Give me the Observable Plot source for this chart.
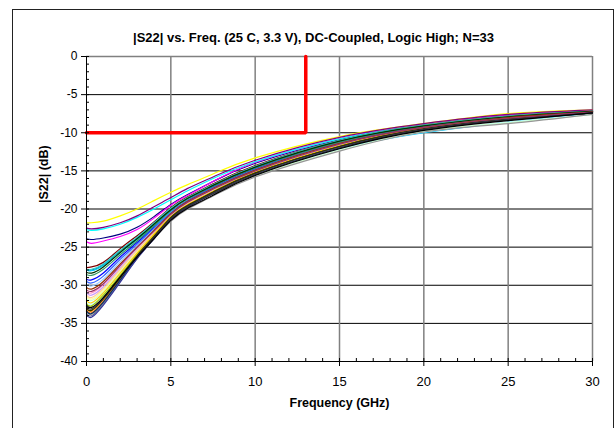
<!DOCTYPE html>
<html><head><meta charset="utf-8">
<script src="https://cdn.jsdelivr.net/npm/d3@7"></script>
<script src="https://cdn.jsdelivr.net/npm/@observablehq/plot@0.6"></script>
<style>
html,body{margin:0;padding:0;background:#fff;}
#wrap{position:relative;width:616px;height:428px;overflow:hidden;background:#fff;}
#frame{position:absolute;left:12px;top:9px;width:602px;height:450px;border:1.5px solid #222;box-sizing:border-box;pointer-events:none;}
#chart{position:absolute;left:0;top:0;}
</style></head><body><div id="wrap"><div id="chart"></div><div id="frame"></div></div>
<script>
// Frequency sample points (GHz)
const freq = [0, 0.3, 1, 2, 3, 4, 5, 6, 7.5, 10, 15, 20, 25, 30];
// |S22| (dB) for each of the 33 units
const s01 = [-23.9,-24.0,-23.8,-23.3,-22.4,-21.0,-19.4,-18.1,-16.4,-14.0,-10.9,-9.0,-7.8,-7.2];
const s02 = [-24.3,-24.5,-24.2,-23.6,-22.7,-21.2,-19.5,-18.2,-16.4,-13.9,-10.8,-8.9,-7.7,-7.1];
const s03 = [-21.8,-21.8,-21.6,-20.9,-20.0,-18.9,-17.8,-16.8,-15.4,-13.3,-10.5,-8.8,-7.5,-7.0];
const s04 = [-22.7,-22.8,-22.6,-22.0,-21.1,-20.0,-18.8,-17.6,-16.0,-13.8,-10.8,-9.0,-7.8,-7.2];
const s05 = [-22.5,-22.6,-22.4,-21.8,-20.9,-19.7,-18.5,-17.3,-15.8,-13.6,-10.6,-8.8,-7.6,-7.0];
const s06 = [-27.7,-27.6,-27.0,-25.2,-23.5,-21.7,-19.8,-18.4,-16.7,-14.3,-11.0,-9.0,-7.8,-7.2];
const s07 = [-28.0,-28.0,-27.3,-25.5,-23.8,-21.9,-20.0,-18.6,-16.9,-14.5,-11.1,-9.1,-7.9,-7.2];
const s08 = [-29.2,-29.3,-28.4,-26.3,-24.4,-22.4,-20.4,-18.9,-17.1,-14.7,-11.3,-9.2,-8.0,-7.3];
const s09 = [-28.0,-28.1,-27.4,-25.7,-24.0,-22.2,-20.4,-19.0,-17.4,-15.2,-12.1,-10.0,-8.6,-7.5];
const s10 = [-32.2,-32.5,-31.1,-28.6,-26.0,-23.5,-21.2,-19.6,-17.9,-15.5,-12.2,-9.9,-8.6,-7.6];
const s11 = [-31.7,-32.0,-30.8,-28.2,-25.7,-23.3,-21.1,-19.6,-17.9,-15.6,-12.3,-9.8,-8.7,-7.6];
const s12 = [-31.5,-31.8,-30.6,-28.0,-25.5,-23.1,-20.9,-19.3,-17.6,-15.1,-11.6,-9.4,-8.1,-7.4];
const s13 = [-29.9,-30.1,-29.2,-26.9,-24.8,-22.6,-20.5,-19.0,-17.3,-14.9,-11.4,-9.3,-8.0,-7.3];
const s14 = [-30.8,-31.0,-29.9,-27.5,-25.1,-22.9,-20.7,-19.1,-17.4,-15.0,-11.5,-9.3,-8.0,-7.3];
const s15 = [-31.0,-31.3,-30.2,-27.7,-25.2,-23.0,-20.8,-19.2,-17.5,-15.1,-11.6,-9.4,-8.1,-7.4];
const s16 = [-31.3,-31.6,-30.4,-27.9,-25.4,-23.1,-20.9,-19.3,-17.6,-15.2,-11.7,-9.4,-8.1,-7.4];
const s17 = [-29.5,-29.7,-28.8,-26.6,-24.6,-22.5,-20.5,-18.9,-17.2,-14.8,-11.3,-9.2,-8.0,-7.3];
const s18 = [-27.9,-27.9,-27.2,-25.4,-23.7,-21.8,-19.9,-18.5,-16.8,-14.4,-11.0,-9.0,-7.8,-7.2];
const s19 = [-32.4,-32.7,-31.3,-28.7,-26.0,-23.5,-21.1,-19.5,-17.7,-15.2,-11.7,-9.4,-8.1,-7.3];
const s20 = [-32.0,-32.3,-31.0,-28.4,-25.8,-23.3,-21.0,-19.4,-17.7,-15.2,-11.7,-9.5,-8.2,-7.4];
const s21 = [-33.1,-33.4,-31.9,-29.1,-26.2,-23.6,-21.2,-19.6,-17.8,-15.3,-11.8,-9.5,-8.2,-7.4];
const s22 = [-33.3,-33.6,-32.1,-29.2,-26.3,-23.7,-21.2,-19.6,-17.8,-15.3,-11.8,-9.5,-8.2,-7.4];
const s23 = [-33.7,-34.0,-32.4,-29.4,-26.4,-23.8,-21.3,-19.7,-17.9,-15.4,-11.9,-9.6,-8.3,-7.4];
const s24 = [-33.5,-33.8,-32.3,-29.4,-26.5,-23.9,-21.6,-20.0,-18.3,-15.8,-12.4,-9.9,-8.8,-7.6];
const s25 = [-33.4,-33.7,-32.2,-29.3,-26.3,-23.7,-21.2,-19.6,-17.8,-15.3,-11.8,-9.5,-8.2,-7.4];
const s26 = [-28.6,-28.7,-27.9,-26.0,-24.2,-22.2,-20.2,-18.7,-17.0,-14.6,-11.2,-9.1,-7.9,-7.2];
const s27 = [-28.3,-28.4,-27.6,-25.7,-23.9,-22.0,-20.1,-18.6,-16.9,-14.5,-11.1,-9.1,-7.9,-7.2];
const s28 = [-33.0,-33.3,-31.8,-29.0,-26.1,-23.6,-21.1,-19.5,-17.8,-15.3,-11.8,-9.5,-8.2,-7.4];
const s29 = [-30.3,-30.5,-29.5,-27.2,-25.0,-22.8,-20.6,-19.0,-17.3,-14.9,-11.4,-9.3,-8.0,-7.3];
const s30 = [-30.6,-30.8,-29.8,-27.4,-25.0,-22.9,-20.7,-19.1,-17.4,-15.0,-11.5,-9.3,-8.1,-7.3];
const s31 = [-33.9,-34.2,-32.6,-29.6,-26.5,-23.9,-21.4,-19.8,-18.0,-15.5,-12.0,-9.6,-8.3,-7.4];
const s32 = [-32.8,-33.1,-31.7,-28.9,-26.2,-23.7,-21.3,-19.7,-18.0,-15.5,-12.0,-9.6,-8.3,-7.4];
const s33 = [-32.6,-32.9,-31.6,-28.9,-26.3,-23.9,-21.5,-19.9,-18.2,-15.6,-12.1,-9.7,-8.4,-7.4];
const curves = [s01,s02,s03,s04,s05,s06,s07,s08,s09,s10,s11,s12,s13,s14,s15,s16,s17,
                s18,s19,s20,s21,s22,s23,s24,s25,s26,s27,s28,s29,s30,s31,s32,s33];
const colors = ["#000080","#FF00FF","#FFFF00","#00FFFF","#800080","#800000","#008080","#0000FF",
  "#00CCFF","#CCFFFF","#CCFFCC","#FFFF99","#99CCFF","#FF99CC","#CC99FF","#FFCC99","#3366FF",
  "#33CCCC","#99CC00","#FFCC00","#FF9900","#FF6600","#666699","#969696","#003366","#339966",
  "#003300","#333300","#993300","#993366","#333399","#333333","#000000"];
// Spec limit line
const limitFreq = [0, 13, 13];
const limitDb = [-10, -10, 0];
// Axis ticks
const xTicks = [0, 5, 10, 15, 20, 25, 30];
const yTicks = [0, -5, -10, -15, -20, -25, -30, -35, -40];
const xMinor = d3.range(0, 31, 1);
const yMinor = d3.range(-40, 1, 1);
const hGrid = [-5, -10, -15, -20, -25, -30, -35];
const vGrid = [5, 10, 15, 20, 25];
const titleText = "|S22| vs. Freq. (25 C, 3.3 V), DC-Coupled, Logic High; N=33";

const rows = curves.flatMap((vals, i) => vals.map((v, j) => ({f: freq[j], db: v, s: i})));
const limitRows = limitFreq.map((f, i) => ({f, db: limitDb[i]}));

const chart = Plot.plot({
  width: 616, height: 428,
  marginLeft: 86, marginRight: 24, marginTop: 56, marginBottom: 67,
  style: {fontFamily: "'Liberation Sans', Arial, sans-serif", fontSize: "12px", color: "#000", background: "#fff"},
  x: {domain: [0, 30]},
  y: {domain: [-40, 0]},
  color: {type: "identity"},
  marks: [
    Plot.ruleY(hGrid, {stroke: "#000", strokeWidth: 1}),
    Plot.ruleX(vGrid, {stroke: "#808080", strokeWidth: 1.5}),
    Plot.ruleY([0], {stroke: "#808080", strokeWidth: 1.5}),
    Plot.ruleX([30], {stroke: "#808080", strokeWidth: 1.5}),
    Plot.line(limitRows, {x: "f", y: "db", stroke: "#FF0000", strokeWidth: 3.5, strokeLinejoin: "miter"}),
    Plot.line(rows, {x: "f", y: "db", z: "s", stroke: d => colors[d.s], strokeWidth: 1.2, curve: "natural"}),
    Plot.ruleX([0], {stroke: "#000", strokeWidth: 1}),
    Plot.ruleY([-40], {stroke: "#000", strokeWidth: 1}),
    Plot.axisY({ticks: yTicks, tickSize: 5, tickPadding: 4, tickFormat: d => String(d), label: null}),
    Plot.axisY({ticks: yMinor, tickSize: 3, dx: 3, fill: "none", label: null}),
    Plot.axisX({ticks: xTicks, tickSize: 5, tickPadding: 10, tickFormat: d => String(d), label: null, fontSize: 13}),
    Plot.axisX({ticks: xMinor, tickSize: 3, dy: -3, fill: "none", label: null}),
    Plot.text([titleText], {frameAnchor: "top", dy: -24, dx: -26, fontWeight: "bold", fontSize: 13}),
    Plot.text(["Frequency (GHz)"], {frameAnchor: "bottom", dy: 45, fontWeight: "bold", fontSize: 12.5}),
    Plot.text(["|S22| (dB)"], {frameAnchor: "left", dx: -43, dy: -6, rotate: -90, fontWeight: "bold", fontSize: 12.5})
  ]
});
document.getElementById("chart").appendChild(chart);
</script></body></html>
